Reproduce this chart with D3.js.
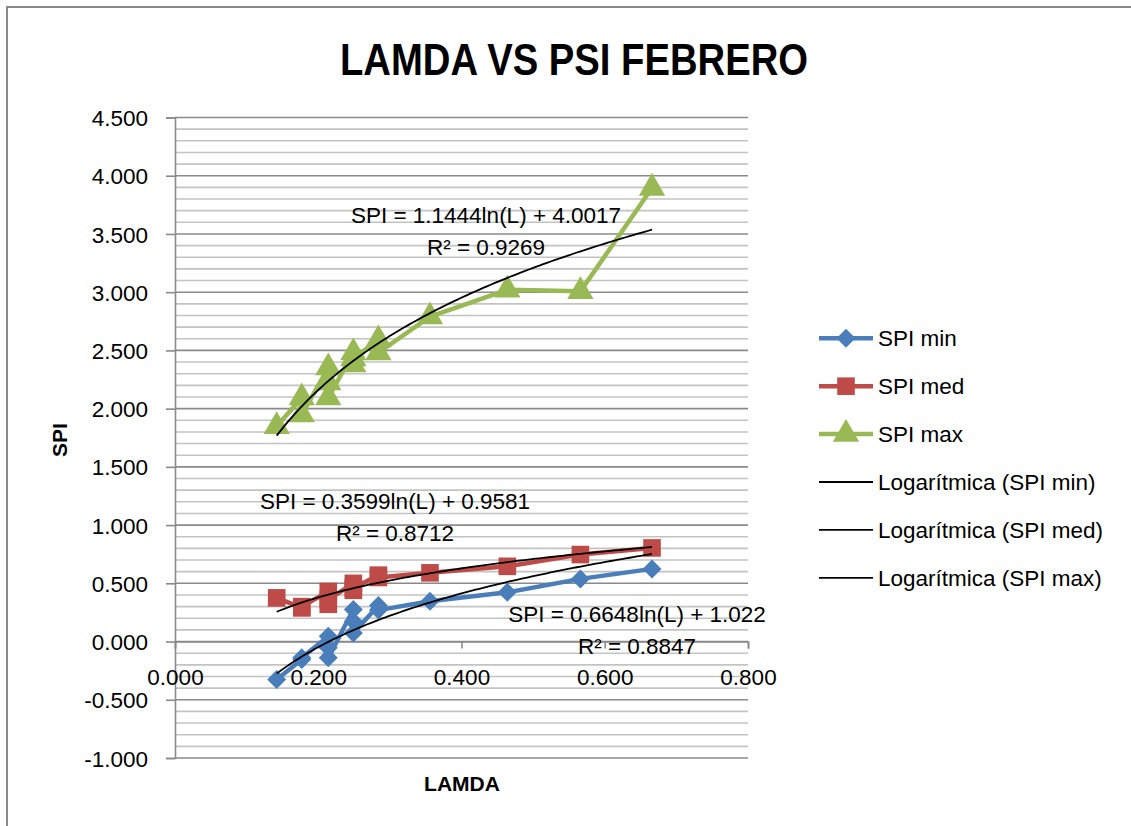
<!DOCTYPE html>
<html>
<head>
<meta charset="utf-8">
<script src="https://cdn.jsdelivr.net/npm/d3@7"></script>
<style>
  html, body { margin: 0; padding: 0; background: #fff; }
  svg { display: block; font-family: "Liberation Sans", Arial, sans-serif; }
</style>
</head>
<body>
<svg id="chart" width="1131" height="826"></svg>
<script>
// ---- data ----
const lamda  = [0.142, 0.177, 0.177, 0.214, 0.214, 0.214, 0.249, 0.249, 0.249, 0.284, 0.284, 0.356, 0.464, 0.566, 0.666];
const spiMin = [-0.326, -0.155, -0.14, 0.045, -0.054, -0.14, 0.275, 0.174, 0.074, 0.31, 0.27, 0.346, 0.423, 0.538, 0.624];
const spiMed = [0.375, 0.289, 0.30, 0.43, 0.32, 0.36, 0.50, 0.44, 0.46, 0.57, 0.55, 0.59, 0.646, 0.747, 0.804];
const spiMax = [1.848, 2.094, 1.948, 2.352, 2.223, 2.094, 2.48, 2.378, 2.43, 2.592, 2.48, 2.79, 3.02, 3.007, 3.894];
const seriesNames = ["SPI min", "SPI med", "SPI max"];
const trendNames = ["Logarítmica (SPI min)", "Logarítmica (SPI med)", "Logarítmica (SPI max)"];
// logarithmic trendline coefficients: SPI = a ln(L) + b
const trendA = [0.6648, 0.3599, 1.1444];
const trendB = [1.022, 0.9581, 4.0017];
const trendEq = ["SPI = 0.6648ln(L) + 1.022", "SPI = 0.3599ln(L) + 0.9581", "SPI = 1.1444ln(L) + 4.0017"];
const trendR2 = ["R² = 0.8847", "R² = 0.8712", "R² = 0.9269"];
const xTicks = [0, 0.2, 0.4, 0.6, 0.8];
const xTickLabels = ["0.000", "0.200", "0.400", "0.600", "0.800"];
const yTicks = [-1, -0.5, 0, 0.5, 1, 1.5, 2, 2.5, 3, 3.5, 4, 4.5];
const yTickLabels = ["-1.000", "-0.500", "0.000", "0.500", "1.000", "1.500", "2.000", "2.500", "3.000", "3.500", "4.000", "4.500"];
const yMinorTicks = d3.range(-10, 46).filter(v => v % 5 !== 0).map(v => v / 10);
const title = "LAMDA VS PSI FEBRERO";
const xTitle = "LAMDA";
const yTitle = "SPI";

// ---- styles ----
const colors = ["#4A7EBB", "#BE4B48", "#98B954"];
const markerTypes = [d3.symbolDiamond2, d3.symbolSquare, d3.symbolTriangle];
const markerSizes = [230, 310, 300];

const svg = d3.select("#chart");
svg.append("rect").attr("width", 1131).attr("height", 826).attr("fill", "#fff");
// chart border
svg.append("path").attr("d", "M7,840 V7 H1140")
  .attr("fill", "none").attr("stroke", "#898989").attr("stroke-width", 2);

const x = d3.scaleLinear().domain([0, 0.8]).range([175, 748]);
const y = d3.scaleLinear().domain([-1, 4.5]).range([758, 117.5]);

// gridlines
const grid = svg.append("g");
grid.selectAll("line.minor").data(yMinorTicks).join("line")
  .attr("x1", x(0)).attr("x2", x(0.8))
  .attr("y1", d => y(d)).attr("y2", d => y(d))
  .attr("stroke", "#c3c3c3").attr("stroke-width", 1.6);
grid.selectAll("line.major").data(yTicks).join("line")
  .attr("x1", x(0)).attr("x2", x(0.8))
  .attr("y1", d => y(d)).attr("y2", d => y(d))
  .attr("stroke", "#8a8a8a").attr("stroke-width", 1.6);

// y axis
const yAxis = svg.append("g").attr("transform", `translate(${x(0)},0)`)
  .call(d3.axisLeft(y).tickValues(yTicks).tickSize(9).tickPadding(0)
    .tickFormat((d, i) => yTickLabels[i]));
yAxis.select(".domain").attr("stroke", "#8a8a8a").attr("stroke-width", 1.6);
yAxis.selectAll(".tick line").attr("stroke", "#8a8a8a").attr("stroke-width", 1.6);
yAxis.selectAll(".tick text").attr("x", -27).attr("dy", "0.36em")
  .attr("font-size", 22.5).attr("fill", "#000").attr("font-family", "Liberation Sans, Arial, sans-serif");

// x axis at y=0
const xAxis = svg.append("g").attr("transform", `translate(0,${y(0)})`)
  .call(d3.axisBottom(x).tickValues(xTicks).tickSize(7).tickPadding(0)
    .tickFormat((d, i) => xTickLabels[i]));
xAxis.select(".domain").attr("stroke", "#8a8a8a").attr("stroke-width", 1.6);
xAxis.selectAll(".tick line").attr("stroke", "#8a8a8a").attr("stroke-width", 1.6);
xAxis.selectAll(".tick text").attr("y", 43).attr("dy", 0)
  .attr("font-size", 22.5).attr("fill", "#000").attr("font-family", "Liberation Sans, Arial, sans-serif");

// series
const allSeries = [spiMin, spiMed, spiMax];
const line = d3.line().x(d => x(d[0])).y(d => y(d[1]));
allSeries.forEach((vals, i) => {
  const pts = lamda.map((l, j) => [l, vals[j]]);
  svg.append("path").datum(pts).attr("d", line)
    .attr("fill", "none").attr("stroke", colors[i]).attr("stroke-width", 4.5)
    .attr("stroke-linejoin", "round");
  svg.append("g").selectAll("path").data(pts).join("path")
    .attr("transform", d => `translate(${x(d[0])},${y(d[1])})`)
    .attr("d", d3.symbol().type(markerTypes[i]).size(markerSizes[i]))
    .attr("fill", colors[i]);
});

// trendlines
const lMin = d3.min(lamda), lMax = d3.max(lamda);
const samples = d3.range(0, 101).map(k => lMin + (lMax - lMin) * k / 100);
trendA.forEach((a, i) => {
  const pts = samples.map(l => [l, a * Math.log(l) + trendB[i]]);
  svg.append("path").datum(pts).attr("d", line)
    .attr("fill", "none").attr("stroke", "#000").attr("stroke-width", 1.8);
});

// trendline labels
const eqPos = [[637, 621.5, 653.5], [395, 509, 540.5], [486, 223, 254.5]];
eqPos.forEach((p, i) => {
  svg.append("text").attr("x", p[0]).attr("y", p[1]).attr("text-anchor", "middle")
    .attr("font-size", 22.5).text(trendEq[i]);
  svg.append("text").attr("x", p[0]).attr("y", p[2]).attr("text-anchor", "middle")
    .attr("font-size", 22.5).text(trendR2[i]);
});

// titles
svg.append("text").attr("x", 340).attr("y", 74.5)
  .attr("font-size", 45).attr("font-weight", "bold")
  .attr("textLength", 468).attr("lengthAdjust", "spacingAndGlyphs").text(title);
svg.append("text").attr("x", 462).attr("y", 791).attr("text-anchor", "middle")
  .attr("font-size", 21).attr("font-weight", "bold").text(xTitle);
svg.append("text").attr("transform", "translate(67,440) rotate(-90)")
  .attr("text-anchor", "middle").attr("font-size", 21).attr("font-weight", "bold").text(yTitle);

// legend
const legY0 = 338.3, legDy = 47.9;
const legend = svg.append("g");
seriesNames.concat(trendNames).forEach((name, i) => {
  const yy = legY0 + i * legDy;
  const isSeries = i < 3;
  legend.append("line").attr("x1", 819).attr("x2", 873).attr("y1", yy).attr("y2", yy)
    .attr("stroke", isSeries ? colors[i] : "#000")
    .attr("stroke-width", isSeries ? 4.5 : 1.8);
  if (isSeries) {
    legend.append("path").attr("transform", `translate(846,${yy})`)
      .attr("d", d3.symbol().type(markerTypes[i]).size(markerSizes[i]))
      .attr("fill", colors[i]);
  }
  legend.append("text").attr("x", 878).attr("y", yy + 8)
    .attr("font-size", 22.5).text(name);
});
</script>
</body>
</html>
